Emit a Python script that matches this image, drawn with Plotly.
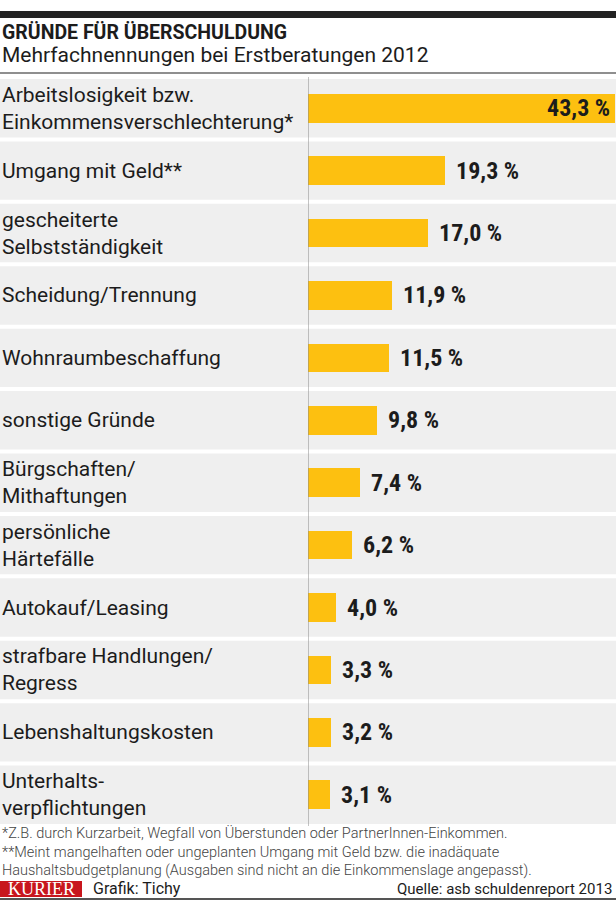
import plotly.graph_objects as go

categories = [
    "Arbeitslosigkeit bzw.<br>Einkommensverschlechterung*",
    "Umgang mit Geld**",
    "gescheiterte<br>Selbstständigkeit",
    "Scheidung/Trennung",
    "Wohnraumbeschaffung",
    "sonstige Gründe",
    "Bürgschaften/<br>Mithaftungen",
    "persönliche<br>Härtefälle",
    "Autokauf/Leasing",
    "strafbare Handlungen/<br>Regress",
    "Lebenshaltungskosten",
    "Unterhalts-<br>verpflichtungen",
]
values = [43.3, 19.3, 17.0, 11.9, 11.5, 9.8, 7.4, 6.2, 4.0, 3.3, 3.2, 3.1]
value_labels = [f"{v:.1f}".replace(".", ",") + " %" for v in values]

title = "GRÜNDE FÜR ÜBERSCHULDUNG"
subtitle = "Mehrfachnennungen bei Erstberatungen 2012"
footnotes = [
    "*Z.B. durch Kurzarbeit, Wegfall von Überstunden oder PartnerInnen-Einkommen.",
    "**Meint mangelhaften oder ungeplanten Umgang mit Geld bzw. die inadäquate",
    "Haushaltsbudgetplanung (Ausgaben sind nicht an die Einkommenslage angepasst).",
]
brand = "KURIER"
credit = "Grafik: Tichy"
source = "Quelle: asb schuldenreport 2013"

W, H = 616, 901
ML, MR, MT, MB = 308, 0, 77, 75
PH = H - MT - MB
PW = W - ML - MR

FONT = "Roboto, sans-serif"
COND = "Roboto Condensed, Roboto, sans-serif"
DARK = "#1c1c1c"
GOLD = "#FDC010"
ROWBG = "#EFEFEF"


def py(pix):
    return (H - MB - pix) / PH


def px(pix):
    return (pix - ML) / PW


n = len(categories)
ypos = list(range(n))

fig = go.Figure()
fig.add_trace(go.Bar(
    x=values, y=ypos, orientation="h", width=0.46,
    marker=dict(color=GOLD, line=dict(width=0)),
    hoverinfo="skip",
))

shapes = []
gap = 2.0 / (PH / n)
for i in ypos:
    shapes.append(dict(type="rect", xref="paper", yref="y", x0=px(0), x1=px(W),
                       y0=i - 0.5 + gap, y1=i + 0.5 - gap, fillcolor=ROWBG,
                       line=dict(width=0), layer="below"))
# axis line
shapes.append(dict(type="line", xref="x", yref="paper", x0=0, x1=0, y0=0, y1=py(MT),
                   line=dict(color="#8a8a8a", width=1)))
# top black bar
shapes.append(dict(type="rect", xref="paper", yref="paper", x0=px(0), x1=px(W),
                   y0=py(18), y1=py(11), fillcolor="#222222", line=dict(width=0)))
# gray line under subtitle
shapes.append(dict(type="line", xref="paper", yref="paper", x0=px(0), x1=px(W),
                   y0=py(73), y1=py(73), line=dict(color="#8f8f8f", width=2)))
# kurier box
shapes.append(dict(type="rect", xref="paper", yref="paper", x0=px(0), x1=px(82),
                   y0=py(897), y1=py(881), fillcolor="#C8161D", line=dict(width=0)))
# bottom line
shapes.append(dict(type="line", xref="paper", yref="paper", x0=px(0), x1=px(W),
                   y0=py(899), y1=py(899), line=dict(color="#555555", width=2)))

ann = []
for i, (c, v, t) in enumerate(zip(categories, values, value_labels)):
    ann.append(dict(x=px(0), xref="paper", y=i, yref="y", text=c, showarrow=False,
                    xanchor="left", yanchor="middle", align="left",
                    font=dict(family=FONT, size=21, color=DARK)))
    if i == 0:
        ann.append(dict(x=v, xref="x", y=i, yref="y", text=t, showarrow=False,
                        xanchor="right", yanchor="middle", xshift=-3,
                        font=dict(family=COND, size=24, color=DARK, weight="bold")))
    else:
        ann.append(dict(x=v, xref="x", y=i, yref="y", text=t, showarrow=False,
                        xanchor="left", yanchor="middle", xshift=9,
                        font=dict(family=COND, size=24, color=DARK, weight="bold")))

ann.append(dict(x=px(0), xref="paper", y=py(33), yref="paper", text=title, showarrow=False,
                xanchor="left", yanchor="middle",
                font=dict(family=FONT, size=19.5, color=DARK, weight="bold")))
ann.append(dict(x=px(0), xref="paper", y=py(55), yref="paper", text=subtitle, showarrow=False,
                xanchor="left", yanchor="middle",
                font=dict(family=FONT, size=21, color=DARK)))
for j, (f, yy) in enumerate(zip(footnotes, [834, 852, 870])):
    ann.append(dict(x=px(0), xref="paper", y=py(yy), yref="paper", text=f, showarrow=False,
                    xanchor="left", yanchor="middle",
                    font=dict(family=FONT, size=14.5, color="#444444", weight=300)))
ann.append(dict(x=px(41), xref="paper", y=py(889), yref="paper", text=brand, showarrow=False,
                xanchor="center", yanchor="middle",
                font=dict(family="Liberation Serif, DejaVu Serif, serif", size=18, color="white")))
ann.append(dict(x=px(91), xref="paper", y=py(889), yref="paper", text=credit, showarrow=False,
                xanchor="left", yanchor="middle",
                font=dict(family=FONT, size=16, color=DARK)))
ann.append(dict(x=px(W - 2), xref="paper", y=py(889), yref="paper", text=source, showarrow=False,
                xanchor="right", yanchor="middle",
                font=dict(family=FONT, size=15, color=DARK)))

fig.update_layout(
    width=W, height=H,
    margin=dict(l=ML, r=MR, t=MT, b=MB, pad=0),
    paper_bgcolor="white", plot_bgcolor="rgba(0,0,0,0)",
    showlegend=False,
    shapes=shapes, annotations=ann,
    xaxis=dict(range=[0, PW / 7.08], visible=False, fixedrange=True),
    yaxis=dict(range=[n - 0.5, -0.5], visible=False, fixedrange=True),
    bargap=0,
)

fig.write_html("out.html", config={"displayModeBar": False},
               post_script="document.body.style.margin='0';document.body.style.overflow='hidden';")
